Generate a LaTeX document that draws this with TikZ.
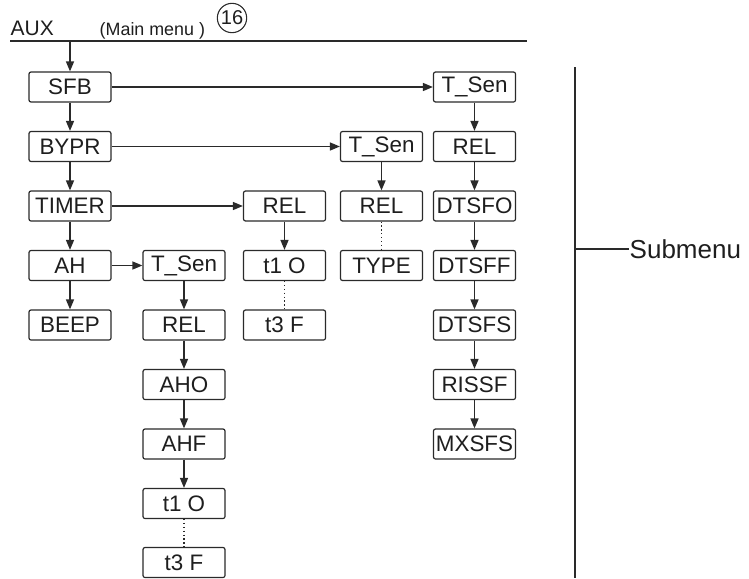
\documentclass[tikz,border=0pt]{standalone}
\usepackage{fontspec}
\setmainfont{Liberation Sans}
\usetikzlibrary{arrows.meta}
\definecolor{linec}{HTML}{2A2A2A}
\definecolor{txt}{HTML}{1E1E1E}
\begin{document}
\begin{tikzpicture}[x=0.75pt,y=-0.75pt,line width=1.1pt,
  box/.style={draw=linec,line width=0.9pt,rounded corners=1.5pt,minimum width=61.5pt,minimum height=22.5pt,inner sep=0pt,text=txt,font=\fontsize{16.8}{18}\selectfont},
  arr/.style={draw=linec,-{Triangle[length=7.5pt,width=6pt]}},
  dots/.style={draw=linec,dotted,line width=0.9pt},
  plain/.style={draw=linec}]
\useasboundingbox (0,0) rectangle (749,578);
% header
\node[anchor=base west,inner sep=0pt,text=txt,font=\fontsize{15.75}{18}\selectfont] (aux) at (10,35) {AUX};
\node[anchor=base west,inner sep=0pt,text=txt,font=\fontsize{13.4}{16}\selectfont] (mm) at (99,35) {(Main menu )};
\node[circle,draw=linec,line width=0.8pt,minimum size=22pt,inner sep=0pt,text=txt,font=\fontsize{15}{16}\selectfont] (c16) at (232,18) {16};
\coordinate (tl) at (10,41);
\coordinate (tr) at (527,41);
\coordinate (t1) at (70,41);
\draw[plain] (tl) -- (tr);
% column A
\node[box] (sfb) at (70,87) {SFB};
\node[box] (bypr) at (70,146.5) {BYPR};
\node[box] (timer) at (70,206) {TIMER};
\node[box] (ah) at (70,265.5) {AH};
\node[box] (beep) at (70,325) {BEEP};
% column B
\node[box] (bts) at (184,265.5) {T\_Sen};
\node[box] (brel) at (184,325) {REL};
\node[box] (baho) at (184,384.5) {AHO};
\node[box] (bahf) at (184,444) {AHF};
\node[box] (bt1) at (184,503.5) {t1 O};
\node[box] (bt3) at (184,562.5) {t3 F};
% column C
\node[box] (crel) at (284.5,206) {REL};
\node[box] (ct1) at (284.5,265.5) {t1 O};
\node[box] (ct3) at (284.5,325) {t3 F};
% column D
\node[box] (dts) at (381.5,146.5) {T\_Sen};
\node[box] (drel) at (381.5,206) {REL};
\node[box] (dtype) at (381.5,265.5) {TYPE};
% column E
\node[box] (ets) at (474.5,87) {T\_Sen};
\node[box] (erel) at (474.5,146.5) {REL};
\node[box] (e1) at (474.5,206) {DTSFO};
\node[box] (e2) at (474.5,265.5) {DTSFF};
\node[box] (e3) at (474.5,325) {DTSFS};
\node[box] (e4) at (474.5,384.5) {RISSF};
\node[box] (e5) at (474.5,444) {MXSFS};
% arrows
\draw[arr] (t1) -- (sfb);
\draw[arr] (sfb) -- (bypr);
\draw[arr] (bypr) -- (timer);
\draw[arr] (timer) -- (ah);
\draw[arr] (ah) -- (beep);
\draw[arr] (sfb) -- (ets);
\draw[arr] (bypr) -- (dts);
\draw[arr] (timer) -- (crel);
\draw[arr] (ah) -- (bts);
\draw[arr] (bts) -- (brel);
\draw[arr] (brel) -- (baho);
\draw[arr] (baho) -- (bahf);
\draw[arr] (bahf) -- (bt1);
\draw[dots] (bt1) -- (bt3);
\draw[arr] (crel) -- (ct1);
\draw[dots] (ct1) -- (ct3);
\draw[arr] (dts) -- (drel);
\draw[dots] (drel) -- (dtype);
\draw[arr] (ets) -- (erel);
\draw[arr] (erel) -- (e1);
\draw[arr] (e1) -- (e2);
\draw[arr] (e2) -- (e3);
\draw[arr] (e3) -- (e4);
\draw[arr] (e4) -- (e5);
% submenu bracket
\coordinate (vt) at (575,67);
\coordinate (vb) at (575,578);
\coordinate (vm) at (575,249);
\draw[plain] (vt) -- (vb);
\node[anchor=west,inner sep=0pt,text=txt,font=\fontsize{19.5}{21}\selectfont] (sub) at (629,249) {Submenu};
\draw[plain] (vm) -- (sub.west);
\end{tikzpicture}
\end{document}
